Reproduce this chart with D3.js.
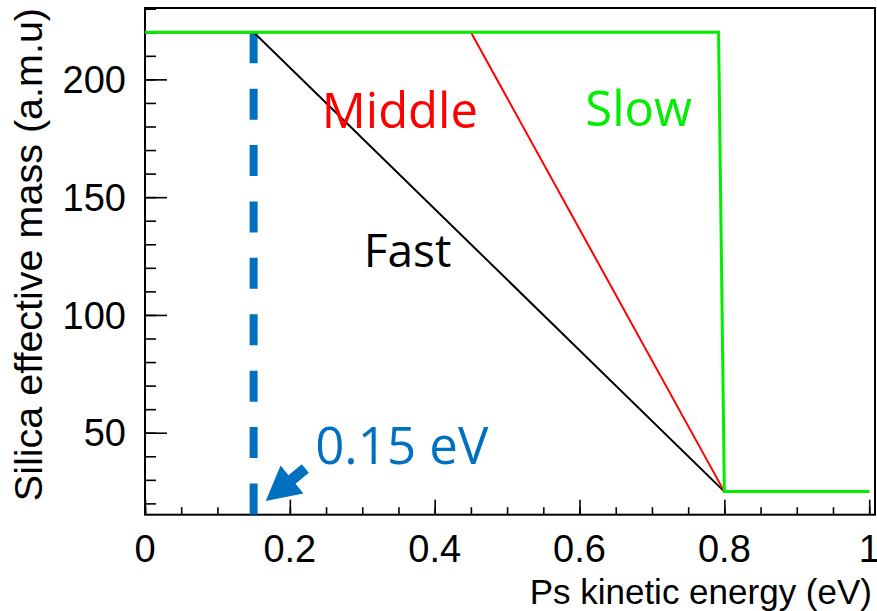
<!DOCTYPE html>
<html>
<head>
<meta charset="utf-8">
<script src="https://cdn.jsdelivr.net/npm/d3@7"></script>
<style>
  html, body { margin: 0; padding: 0; background: #fff; }
  svg { display: block; }
</style>
</head>
<body>
<svg id="chart" width="877" height="611"></svg>
<script>
// Ps kinetic energy (eV) vs silica effective mass (a.m.u) for three regimes
const fastEnergy   = [0, 0.15, 0.80, 1.0];
const fastMass     = [220, 220, 25, 25];
const middleEnergy = [0, 0.45, 0.80, 1.0];
const middleMass   = [220, 220, 25, 25];
const slowEnergy   = [0, 0.792, 0.80, 1.0];
const slowMass     = [220, 220, 25, 25];

const markerEnergy = 0.15;            // threshold marked by the dashed line
const markerTop    = 220;

const xMajorTicks = [0, 0.2, 0.4, 0.6, 0.8, 1];
const xTickLabels = ["0", "0.2", "0.4", "0.6", "0.8", "1"];
const yMajorTicks = [50, 100, 150, 200];
const yTickLabels = ["50", "100", "150", "200"];

const xTitle = "Ps kinetic energy (eV)";
const yTitle = "Silica effective mass (a.m.u)";

const svg = d3.select("#chart");

const x = d3.scaleLinear().domain([0, 1.008]).range([145, 875]);
const y = d3.scaleLinear().domain([15.2, 230.3]).range([514.7, 8]);

const tickFont = "'Liberation Sans', Arial, Helvetica, sans-serif";
const noteFont = "'Open Sans', 'Noto Sans', sans-serif";

// frame
svg.append("rect")
  .attr("x", x.range()[0]).attr("y", y.range()[1])
  .attr("width", x.range()[1] - x.range()[0])
  .attr("height", y.range()[0] - y.range()[1])
  .attr("fill", "none").attr("stroke", "#000").attr("stroke-width", 2);

// x axis: major every 0.2, minor every 0.05, ticks pointing inward
const xMinor = d3.range(0, 1.0001, 0.05);
const xAxisMinor = d3.axisTop(x).tickValues(xMinor).tickSize(7.5).tickFormat("");
const xAxisMajor = d3.axisTop(x).tickValues(xMajorTicks).tickSize(15).tickFormat("");
[xAxisMinor, xAxisMajor].forEach(ax => {
  const g = svg.append("g").attr("transform", `translate(0,${y.range()[0]})`).call(ax);
  g.select(".domain").remove();
  g.selectAll("line").attr("stroke", "#000").attr("stroke-width", 1.6);
});
svg.append("g").selectAll("text").data(xMajorTicks).join("text")
  .attr("x", d => x(d)).attr("y", 562)
  .attr("text-anchor", "middle")
  .attr("font-family", tickFont).attr("font-size", 38)
  .text((d, i) => xTickLabels[i]);

// y axis: major every 50, minor every 10
const yMinor = d3.range(20, 230.1, 10);
const yAxisMinor = d3.axisRight(y).tickValues(yMinor).tickSize(11).tickFormat("");
const yAxisMajor = d3.axisRight(y).tickValues(yMajorTicks).tickSize(22).tickFormat("");
[yAxisMinor, yAxisMajor].forEach(ax => {
  const g = svg.append("g").attr("transform", `translate(${x.range()[0]},0)`).call(ax);
  g.select(".domain").remove();
  g.selectAll("line").attr("stroke", "#000").attr("stroke-width", 1.6);
});
svg.append("g").selectAll("text").data(yMajorTicks).join("text")
  .attr("x", 126).attr("y", d => y(d))
  .attr("dy", "0.36em")
  .attr("text-anchor", "end")
  .attr("font-family", tickFont).attr("font-size", 38)
  .text((d, i) => yTickLabels[i]);

// axis titles
svg.append("text")
  .attr("x", 872).attr("y", 604)
  .attr("text-anchor", "end")
  .attr("font-family", tickFont).attr("font-size", 35)
  .text(xTitle);
svg.append("text")
  .attr("transform", "translate(42,8) rotate(-90)")
  .attr("text-anchor", "end")
  .attr("font-family", tickFont).attr("font-size", 39.5)
  .text(yTitle);

// dashed threshold marker
svg.append("line")
  .attr("x1", x(markerEnergy)).attr("x2", x(markerEnergy))
  .attr("y1", y(markerTop)).attr("y2", y.range()[0])
  .attr("stroke", "#0070C0").attr("stroke-width", 8)
  .attr("stroke-dasharray", "31 25.4");

// curves
const line = d3.line().x(d => x(d[0])).y(d => y(d[1]));
const series = [
  { e: fastEnergy,   m: fastMass,   color: "#000000", w: 2 },
  { e: middleEnergy, m: middleMass, color: "#ff0000", w: 2 },
  { e: slowEnergy,   m: slowMass,   color: "#00ee00", w: 3 }
];
series.forEach(s => {
  svg.append("path")
    .attr("d", line(s.e.map((v, i) => [v, s.m[i]])))
    .attr("fill", "none").attr("stroke", s.color)
    .attr("stroke-width", s.w).attr("stroke-linejoin", "miter");
});

// regime labels (positions in data units)
const notes = [
  { text: "Middle",  e: 0.244, m: 179.5, color: "#ff0000", size: 49 },
  { text: "Slow",    e: 0.608, m: 180.2, color: "#00ee00", size: 49 },
  { text: "Fast",    e: 0.302, m: 120.4, color: "#000000", size: 46 },
  { text: "0.15 eV", e: 0.235, m: 36.9,  color: "#0070C0", size: 51 }
];
svg.append("g").selectAll("text").data(notes).join("text")
  .attr("x", d => x(d.e)).attr("y", d => y(d.m))
  .attr("font-family", noteFont).attr("font-size", d => d.size)
  .attr("fill", d => d.color)
  .text(d => d.text);

// arrow pointing at the threshold
const arrowTip  = [0.1667, 21.0];
const arrowTail = [0.2214, 34.8];
(function drawArrow() {
  const tx = x(arrowTip[0]), ty = y(arrowTip[1]);
  const sx = x(arrowTail[0]), sy = y(arrowTail[1]);
  const len = Math.hypot(sx - tx, sy - ty);
  const ux = (sx - tx) / len, uy = (sy - ty) / len;
  const nx = -uy, ny = ux;
  const headLen = 34, headHalf = 18, shaftHalf = 5.6;
  const bx = tx + ux * headLen, by = ty + uy * headLen;
  const pts = [
    [tx, ty],
    [bx + nx * headHalf, by + ny * headHalf],
    [bx + nx * shaftHalf, by + ny * shaftHalf],
    [sx + nx * shaftHalf, sy + ny * shaftHalf],
    [sx - nx * shaftHalf, sy - ny * shaftHalf],
    [bx - nx * shaftHalf, by - ny * shaftHalf],
    [bx - nx * headHalf, by - ny * headHalf]
  ];
  svg.append("polygon")
    .attr("points", pts.map(p => p.join(",")).join(" "))
    .attr("fill", "#0070C0");
})();
</script>
</body>
</html>
